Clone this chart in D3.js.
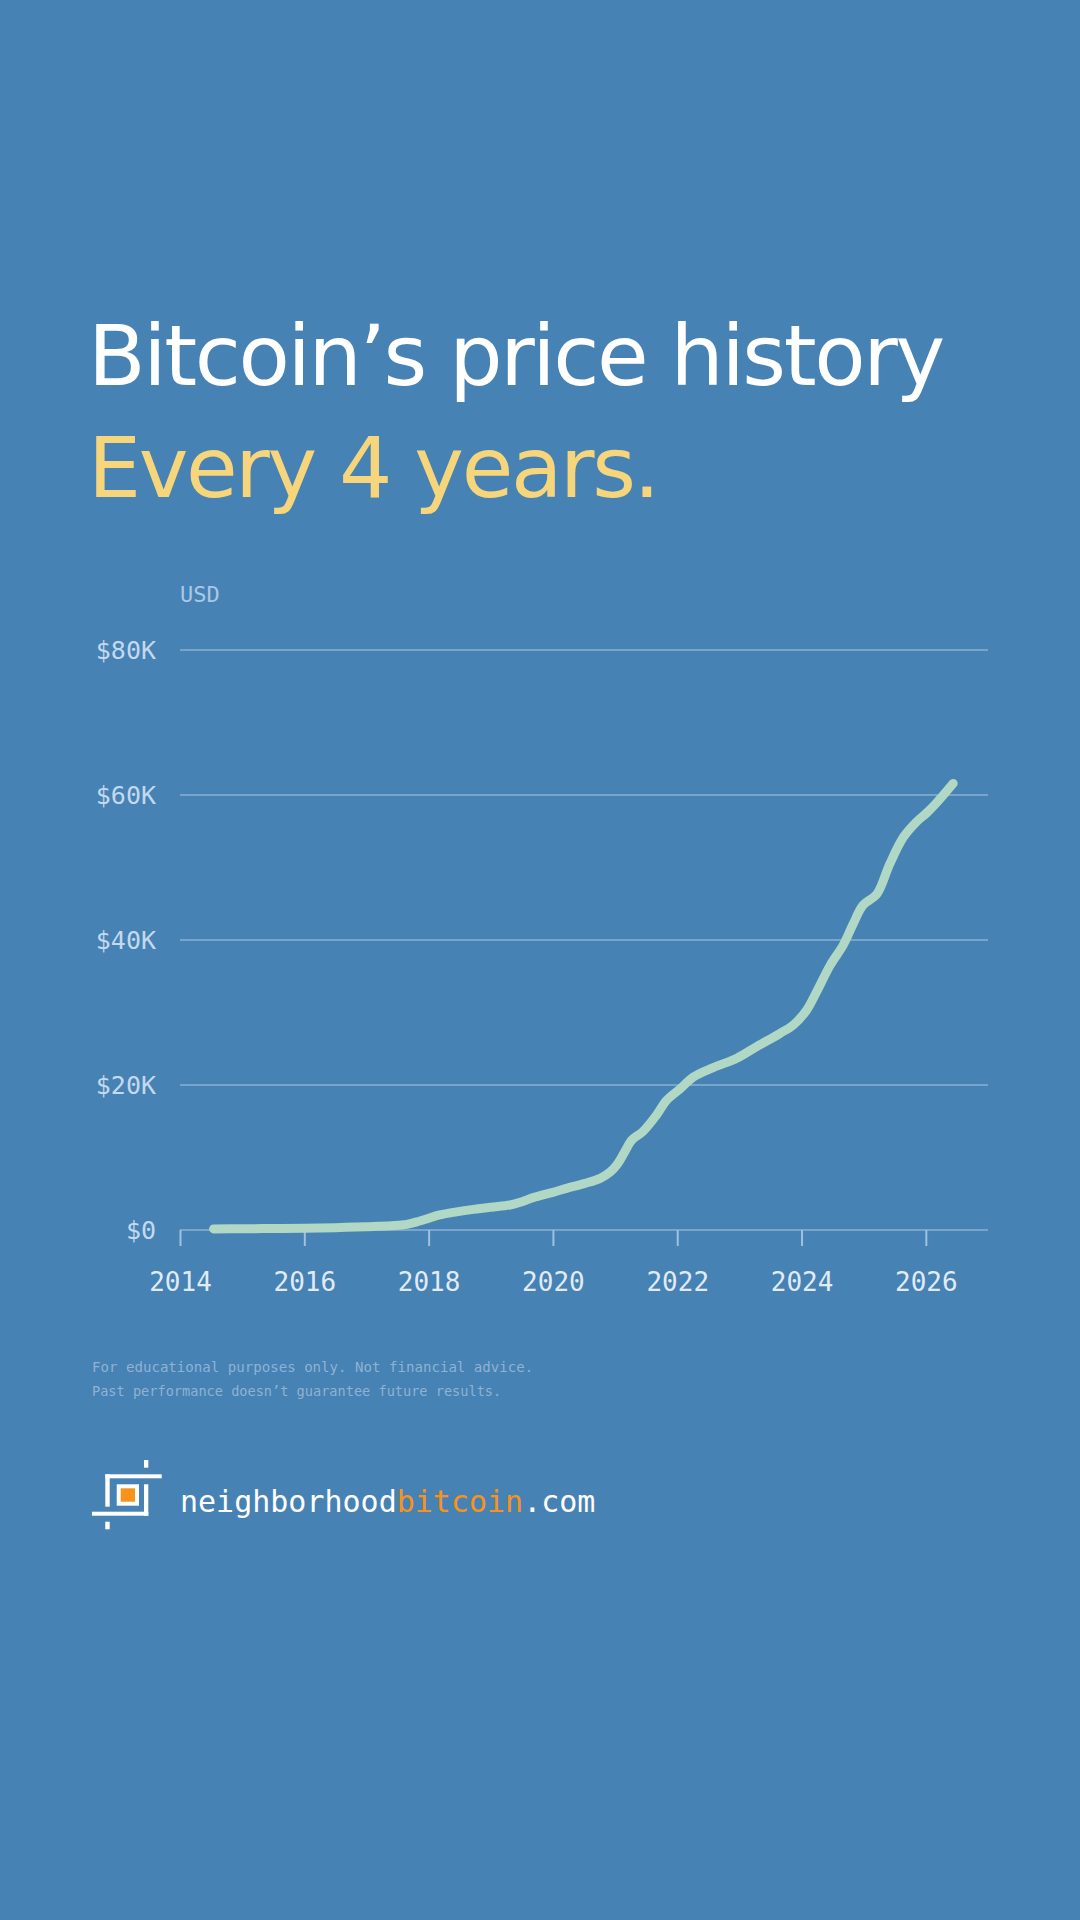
<!DOCTYPE html>
<head>
<meta charset="utf-8">
</head>
<style>
body { margin: 0; background: #4682b4; }
svg { display: block; }
.title { font-family: "DejaVu Sans", sans-serif; font-size: 84px; letter-spacing: -2.4px; }
.mono { font-family: "DejaVu Sans Mono", monospace; }
.grid line { stroke: #79a4cc; stroke-width: 2; }
.axis--y text { fill: #c3d9ee; font-size: 25px; }
.axis--x text { fill: #e1ebf5; font-size: 26px; }
.axis--x line { stroke: #a3c0de; stroke-width: 2; }
.axis path { display: none; }
.price { fill: none; stroke: #b0d8c5; stroke-width: 9; stroke-linecap: round; stroke-linejoin: round; }
</style>
<body>
<svg id="chart" width="1080" height="1920"></svg>

<script src="https://d3js.org/d3.v7.min.js"></script>
<script>

// price (year, USD)
var years = [2014.54, 2015.0, 2015.5, 2016.0, 2016.5, 2017.0, 2017.4, 2017.65, 2017.86, 2018.18,
  2018.45, 2018.72, 2019.0, 2019.31, 2019.5, 2019.68, 2020.0, 2020.22, 2020.5, 2020.76,
  2020.92, 2021.03, 2021.15, 2021.27, 2021.45, 2021.67, 2021.83, 2022.05, 2022.26, 2022.58,
  2022.96, 2023.28, 2023.65, 2023.87, 2024.08, 2024.24, 2024.46, 2024.67, 2024.83, 2024.99,
  2025.21, 2025.42, 2025.64, 2025.85, 2026.01, 2026.17, 2026.44];
var prices = [150, 180, 200, 230, 320, 460, 600, 780, 1240, 2070,
  2500, 2850, 3150, 3450, 3900, 4460, 5200, 5750, 6400, 7130,
  8000, 9000, 10700, 12400, 13600, 15900, 17900, 19500, 21100, 22400,
  23700, 25300, 27100, 28300, 30300, 32800, 36500, 39300, 42200, 44800,
  46300, 50500, 54200, 56300, 57500, 58900, 61600];

var yTicks = [0, 20000, 40000, 60000, 80000];
var xTicks = [2014, 2016, 2018, 2020, 2022, 2024, 2026];

var data = years.map(function(d, i) { return {year: d, price: prices[i]}; });

var svg = d3.select("#chart");

var x = d3.scaleLinear().domain([2014, 2027]).range([180, 988]),
    y = d3.scaleLinear().domain([0, 80000]).range([1230, 650]);

svg.append("rect").attr("width", 1080).attr("height", 1920).attr("fill", "#4682b4");

// heading
svg.append("text").attr("class", "title")
    .attr("x", 88).attr("y", 385)
    .attr("fill", "#ffffff")
    .text("Bitcoin\u2019s price history");
svg.append("text").attr("class", "title")
    .attr("x", 88).attr("y", 497)
    .attr("fill", "#f6d57b")
    .text("Every 4 years.");

svg.append("text").attr("class", "mono")
    .attr("x", 180).attr("y", 602)
    .attr("fill", "#a9c8e4")
    .style("font-size", "22px")
    .text("USD");

// gridlines
svg.append("g").attr("class", "grid")
  .selectAll("line")
  .data(yTicks)
  .enter().append("line")
    .attr("x1", x(2014)).attr("x2", x(2027))
    .attr("y1", function(d) { return y(d); })
    .attr("y2", function(d) { return y(d); });

svg.append("g")
    .attr("class", "axis axis--y mono")
    .attr("transform", "translate(156,0)")
    .call(d3.axisLeft(y).tickValues(yTicks).tickSize(0).tickPadding(0)
      .tickFormat(function(d) { return "$" + (d / 1000) + (d ? "K" : ""); }));

svg.append("g")
    .attr("class", "axis axis--x mono")
    .attr("transform", "translate(0," + y(0) + ")")
    .call(d3.axisBottom(x).tickValues(xTicks).tickSize(16).tickPadding(27).tickFormat(d3.format("d")));

svg.selectAll(".axis").attr("font-family", null).attr("font-size", null);

var line = d3.line()
    .curve(d3.curveCatmullRom.alpha(0.5))
    .x(function(d) { return x(d.year); })
    .y(function(d) { return y(d.price); });

svg.append("path")
    .datum(data)
    .attr("class", "price")
    .attr("d", line);

// footnote
var note = svg.append("text").attr("class", "mono")
    .attr("fill", "#8fb2d3");
note.append("tspan").attr("x", 92).attr("y", 1372).style("font-size", "14.1px")
    .text("For educational purposes only. Not financial advice.");
note.append("tspan").attr("x", 92).attr("y", 1396).style("font-size", "13.6px")
    .text("Past performance doesn\u2019t guarantee future results.");

// logo
var logo = svg.append("g").attr("fill", "#ffffff");
[[144, 1460, 4.3, 7.7], [105.3, 1474.3, 56.4, 4], [105.3, 1474.3, 4.4, 32.4],
 [144, 1484.3, 4.3, 31.4], [92, 1511.7, 56.3, 4], [105.3, 1521.7, 4.4, 7.6]].forEach(function(r) {
  logo.append("rect").attr("x", r[0]).attr("y", r[1]).attr("width", r[2]).attr("height", r[3]);
});
logo.append("rect").attr("x", 118.7).attr("y", 1486.3).attr("width", 18.3).attr("height", 17.4)
    .attr("fill", "#f7931a").attr("stroke", "#ffffff").attr("stroke-width", 4);

var site = svg.append("text").attr("class", "mono")
    .attr("x", 180).attr("y", 1512)
    .attr("fill", "#ffffff")
    .style("font-size", "30px");
site.append("tspan").text("neighborhood");
site.append("tspan").attr("fill", "#f7931a").text("bitcoin");
site.append("tspan").text(".com");

</script>
</body>
